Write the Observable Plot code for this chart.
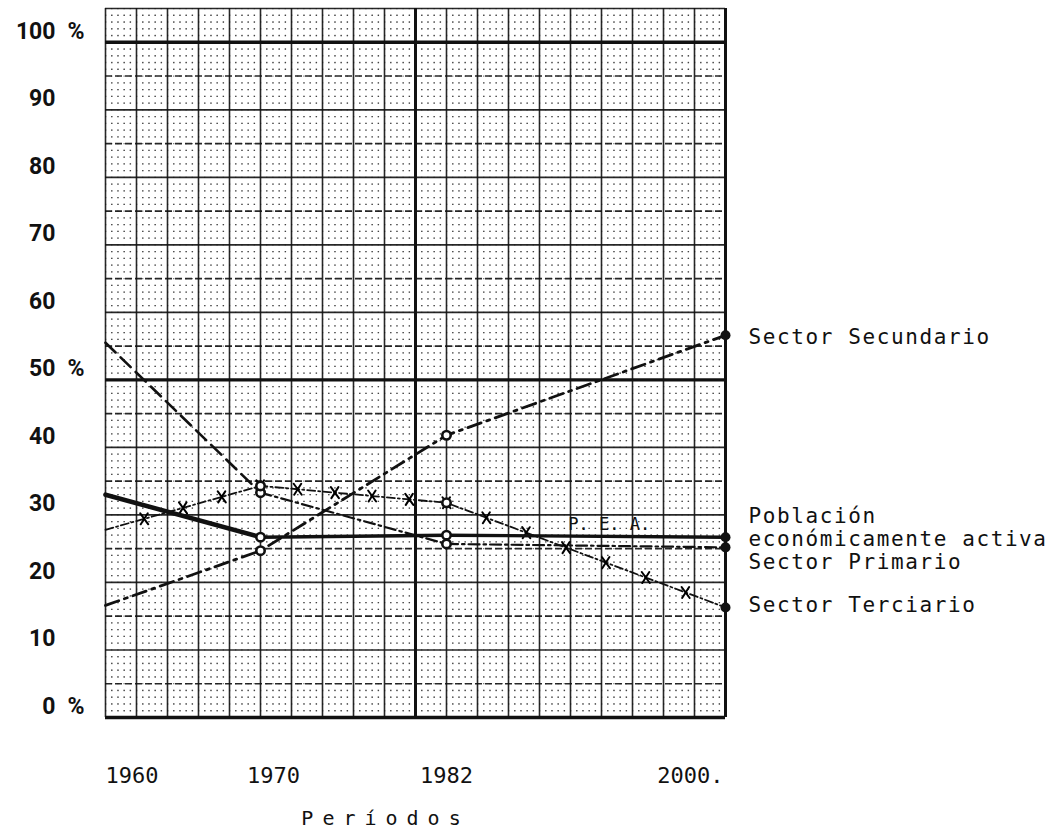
<!DOCTYPE html>
<html>
<head>
<meta charset="utf-8">
<script src="https://cdn.jsdelivr.net/npm/d3@7"></script>
<script src="https://cdn.jsdelivr.net/npm/@observablehq/plot@0.6"></script>
<style>
  html, body { margin: 0; padding: 0; background: #fff; }
  #chart svg { display: block; }
</style>
</head>
<body>
<div id="chart"></div>
<script>
// ---- data ----
const years = [1960, 1970, 1982, 2000];
const sectorPrimario = [55.5, 33.3, 25.7, 25.2];
const sectorSecundario = [16.6, 24.7, 41.8, 56.6];
const sectorTerciario = [27.8, 34.3, 31.8, 16.3];
const poblacionActiva = [33.0, 26.7, 27.0, 26.7];

const seriesKeys = ["primario", "secundario", "terciario", "pea"];
const seriesLabels = [
  "Sector Primario",
  "Sector Secundario",
  "Sector Terciario",
  "Población\neconómicamente activa"
];
const seriesValues = [sectorPrimario, sectorSecundario, sectorTerciario, poblacionActiva];

const yTickValues = [0, 10, 20, 30, 40, 50, 60, 70, 80, 90, 100];
const yPercentTicks = [0, 50, 100];
const xTickValues = [1960, 1970, 1982, 2000];
const xAxisTitle = "Períodos";
const annotations = [{text: "P. E. A.", year: 1992.5, value: 28.6}];

// tidy table
const rows = seriesKeys.flatMap((key, s) =>
  years.map((year, i) => ({key, label: seriesLabels[s], year, value: seriesValues[s][i]}))
);

// graph-paper grid ticks
const majorY = d3.range(0, 106, 5);
const solidY = majorY.filter(v => v % 10 === 0 || v === 105);
const dashedY = majorY.filter(v => v % 10 !== 0 && v !== 105);
const thickY = [0, 50, 100];
const minorY = d3.range(0, 105, 1).filter(v => v % 5 !== 0);
const majorX = d3.range(1960, 2001, 2);
const thickX = [1980, 2000];
const minorX = d3.range(0, 100).filter(i => i % 5 !== 0).map(i => 1960 + i * 0.4);

// curve that subdivides each segment so marker-mid repeats along the line
function subdivided(step) {
  return (context) => {
    let x0, y0, first;
    return {
      areaStart() {}, areaEnd() {},
      lineStart() { first = true; },
      lineEnd() {},
      point(x, y) {
        x = +x; y = +y;
        if (first) { context.moveTo(x, y); first = false; }
        else {
          const n = Math.max(1, Math.round(Math.hypot(x - x0, y - y0) / step));
          for (let i = 1; i <= n; ++i) context.lineTo(x0 + (x - x0) * i / n, y0 + (y - y0) * i / n);
        }
        x0 = x; y0 = y;
      }
    };
  };
}

function crossMarker(color, context) {
  const doc = (context && context.document) || document;
  const ns = "http://www.w3.org/2000/svg";
  const m = doc.createElementNS(ns, "marker");
  m.setAttribute("viewBox", "-7 -7 14 14");
  m.setAttribute("markerWidth", 14);
  m.setAttribute("markerHeight", 14);
  m.setAttribute("markerUnits", "userSpaceOnUse");
  m.setAttribute("orient", "0");
  const p = doc.createElementNS(ns, "path");
  p.setAttribute("d", "M-4,-5.5L4,5.5M3.5,-5.5L-3.5,5.5");
  p.setAttribute("stroke", "black");
  p.setAttribute("stroke-width", "2");
  p.setAttribute("stroke-dasharray", "none");
  p.setAttribute("fill", "none");
  m.appendChild(p);
  return m;
}

const mono = "'DejaVu Sans Mono', 'Liberation Mono', monospace";
const bold = "Roboto, 'Liberation Sans', sans-serif";
const ink = "#111";
const labelFont = {fontFamily: mono, fontSize: 21, fill: ink, textAnchor: "start", dx: 23, ariaLabel: () => "series-label"};

const chart = Plot.plot({
  width: 1056,
  height: 832,
  marginLeft: 105,
  marginRight: 331,
  marginTop: 8,
  marginBottom: 115,
  x: {domain: [1960, 2000], axis: null},
  y: {domain: [0, 105], axis: null},
  style: {background: "white", color: ink, overflow: "visible"},
  marks: [
    // minor dotted graph paper
    Plot.gridY(minorY, {stroke: ink, strokeOpacity: 0.55, strokeWidth: 1.3, strokeDasharray: "1.3,4.9"}),
    Plot.gridX(minorX, {stroke: ink, strokeOpacity: 0.55, strokeWidth: 1.3, strokeDasharray: "1.3,5.45"}),
    // major lines
    Plot.gridY(solidY, {stroke: ink, strokeOpacity: 0.9, strokeWidth: 1.7}),
    Plot.gridY(dashedY, {stroke: ink, strokeOpacity: 0.9, strokeWidth: 1.7, strokeDasharray: "7,3"}),
    Plot.gridX(majorX, {stroke: ink, strokeOpacity: 0.9, strokeWidth: 1.6}),
    Plot.gridY(thickY, {stroke: ink, strokeOpacity: 1, strokeWidth: 3.4}),
    Plot.gridX(thickX, {stroke: ink, strokeOpacity: 1, strokeWidth: 3}),

    // series
    Plot.line(rows, {filter: d => d.key === "primario" && d.year <= 1970, x: "year", y: "value",
      stroke: ink, strokeWidth: 2.6, strokeDasharray: "14,7"}),
    Plot.line(rows, {filter: d => d.key === "primario" && d.year >= 1970, x: "year", y: "value",
      stroke: ink, strokeWidth: 2.2, strokeDasharray: "11,4,2.5,4"}),
    Plot.line(rows, {filter: d => d.key === "secundario", x: "year", y: "value",
      stroke: ink, strokeWidth: 2.8, strokeDasharray: "14,6,3,6"}),
    Plot.line(rows, {filter: d => d.key === "terciario", x: "year", y: "value",
      stroke: ink, strokeWidth: 1.8, strokeDasharray: "8,3,2,3",
      curve: subdivided(40), markerMid: crossMarker}),
    Plot.line(rows, {filter: d => d.key === "pea" && d.year <= 1970, x: "year", y: "value",
      stroke: ink, strokeWidth: 4.6}),
    Plot.line(rows, {filter: d => d.key === "pea" && d.year >= 1970, x: "year", y: "value",
      stroke: ink, strokeWidth: 3.4}),

    // markers
    Plot.dot(rows, {filter: d => d.year === 1970 || d.year === 1982, x: "year", y: "value",
      r: 4.2, fill: "white", stroke: ink, strokeWidth: 2.6}),
    Plot.dot(rows, {filter: d => d.year === 2000, x: "year", y: "value", r: 5, fill: ink}),

    // annotation on the chart
    Plot.text(annotations, {x: "year", y: "value", text: "text", fontFamily: mono, fontSize: 17, fill: ink}),

    // series labels to the right
    Plot.text(rows, {filter: d => d.year === 2000 && d.key === "secundario", x: "year", y: "value", text: "label",
      dy: 2, ...labelFont}),
    Plot.text(rows, {filter: d => d.year === 2000 && d.key === "pea", x: "year", y: "value", text: "label",
      dy: -10, lineHeight: 1.1, ...labelFont}),
    Plot.text(rows, {filter: d => d.year === 2000 && d.key === "primario", x: "year", y: "value", text: "label",
      dy: 15, ...labelFont}),
    Plot.text(rows, {filter: d => d.year === 2000 && d.key === "terciario", x: "year", y: "value", text: "label",
      dy: -2, ...labelFont}),

    // y axis
    Plot.axisY(yTickValues, {tickSize: 0, tickPadding: 50, textAnchor: "end", dy: -11, label: null,
      fontFamily: bold, fontWeight: "bold", fontSize: 23, fill: ink, tickFormat: d => `${d}`}),
    Plot.text(yPercentTicks, {y: d => d, text: () => "%", frameAnchor: "left", dx: -38, dy: -11,
      textAnchor: "start", fontFamily: bold, fontWeight: "bold", fontSize: 23, fill: ink}),

    // x axis
    Plot.axisX([xTickValues[0]], {tickSize: 0, tickPadding: 50, textAnchor: "start", label: null,
      fontFamily: mono, fontSize: 22, fill: ink, tickFormat: d => `${d}`}),
    Plot.axisX([xTickValues[1]], {tickSize: 0, tickPadding: 50, dx: 13, label: null,
      fontFamily: mono, fontSize: 22, fill: ink, tickFormat: d => `${d}`}),
    Plot.axisX([xTickValues[2]], {tickSize: 0, tickPadding: 50, label: null,
      fontFamily: mono, fontSize: 22, fill: ink, tickFormat: d => `${d}`}),
    Plot.axisX([xTickValues[3]], {tickSize: 0, tickPadding: 50, textAnchor: "end", dx: -2, label: null,
      fontFamily: mono, fontSize: 22, fill: ink, tickFormat: d => `${d}.`}),

    // x axis title
    Plot.text([xAxisTitle], {text: d => d, frameAnchor: "bottom", dx: -30, dy: 107,
      fontFamily: mono, fontSize: 20, fill: ink, ariaLabel: () => "x-title"})
  ]
});

document.getElementById("chart").appendChild(chart);

// typewriter spacing
chart.querySelectorAll('[aria-label="x-title"]').forEach(t => t.style.letterSpacing = "9px");
chart.querySelectorAll('[aria-label="series-label"]').forEach(t => t.style.letterSpacing = "1.6px");
</script>
</body>
</html>
